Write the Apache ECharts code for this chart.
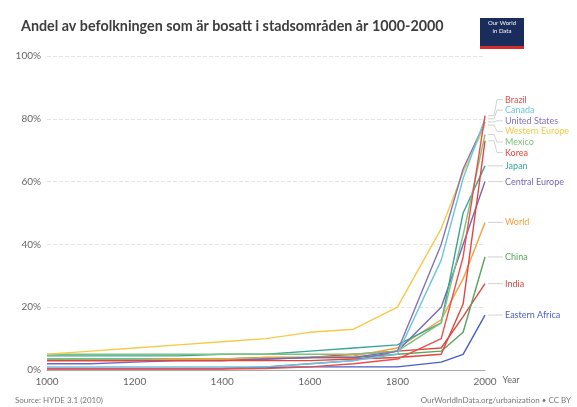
<!DOCTYPE html>
<html><head><meta charset="utf-8">
<script src="https://cdn.jsdelivr.net/npm/echarts@6/dist/echarts.min.js"></script>
<style>html,body{margin:0;padding:0;background:#fff}#c{width:577px;height:407px}</style>
</head><body><div id="c"></div>
<script>
var years = [1000, 1100, 1200, 1300, 1400, 1500, 1600, 1700, 1800, 1900, 1950, 2000];
var seriesNames = ['Brazil','Canada','United States','Western Europe','Mexico','Korea','Japan','Central Europe','World','China','India','Eastern Africa'];
var brazil        = [0.3, 0.3, 0.3, 0.3, 0.3, 0.5, 1.0, 2.0, 3.5, 10, 36, 81];
var canada        = [1.0, 1.0, 1.0, 1.0, 1.0, 1.0, 2.0, 3.0, 5.0, 35, 61, 80];
var unitedStates  = [0.5, 0.5, 0.5, 0.5, 0.5, 1.0, 2.0, 3.0, 6.0, 40, 64, 79];
var westernEurope = [5.0, 6.0, 7.0, 8.0, 9.0, 10, 12, 13, 20, 45, 63, 78];
var mexico        = [5.0, 5.0, 5.0, 5.0, 5.0, 5.0, 5.0, 5.0, 6.0, 15, 43, 75];
var korea         = [3.0, 3.0, 3.0, 3.0, 3.0, 3.0, 3.0, 3.5, 4.0, 5.0, 21, 73];
var japan         = [4.5, 4.5, 4.5, 4.5, 5.0, 5.0, 6.0, 7.0, 8.0, 15, 50, 65];
var centralEurope = [2.0, 2.0, 2.5, 3.0, 3.0, 3.5, 4.0, 4.0, 6.0, 20, 40, 60];
var world         = [3.0, 3.0, 3.0, 3.5, 3.5, 4.0, 4.0, 4.5, 7.0, 16, 29, 47];
var china         = [3.5, 3.5, 3.5, 3.5, 3.5, 4.0, 4.0, 4.0, 5.0, 6.0, 12, 36];
var india         = [3.0, 3.0, 3.0, 3.0, 3.0, 3.5, 4.0, 5.0, 6.0, 7.0, 17, 27.5];
var easternAfrica = [0.5, 0.5, 0.5, 0.5, 0.5, 0.8, 1.0, 1.0, 1.0, 2.5, 5.0, 17.5];
var seriesData = [brazil, canada, unitedStates, westernEurope, mexico, korea, japan, centralEurope, world, china, india, easternAfrica];
var colors = ['#e8504c','#6cc5dd','#8273bd','#f7c948','#7fc27a','#e2453f','#3aa59c','#7766b8','#f5a03d','#5aa35a','#d94a40','#4a5fc4'];

var chart = echarts.init(document.getElementById('c'), null, {renderer:'canvas'});
var series = seriesNames.map(function(n, i){
  return {
    name:n, type:'line', data:years.map(function(y, j){ return [y, seriesData[i][j]]; }),
    showSymbol:false, symbol:'none',
    lineStyle:{width:1.4, color:colors[i]}, itemStyle:{color:colors[i]},
    z: 10 - i*0.1
  };
});
var option = {
  animation:false,
  color:colors,
  title:{text:'Andel av befolkningen som är bosatt i stadsområden år 1000-2000', left:16, top:14,
    textStyle:{fontFamily:'Lato', fontWeight:'bold', fontSize:14.3, color:'#3d3d3d'}},
  grid:{left:47, right:92, top:56, bottom:37},
  xAxis:{type:'value', min:1000, max:2000, interval:200, name:'Year', nameLocation:'end', nameGap:12,
    nameTextStyle:{color:'#666', fontSize:9, fontFamily:'Lato', verticalAlign:'top', padding:[6,0,0,0]},
    axisLine:{lineStyle:{color:'#aaa'}}, axisTick:{show:false}, splitLine:{show:false},
    axisLabel:{color:'#666', fontSize:10, fontFamily:'Lato', margin:7, formatter:function(v){return String(v);}}},
  yAxis:{type:'value', min:0, max:100, interval:20,
    axisLine:{show:false}, axisTick:{show:false},
    splitLine:{lineStyle:{color:'#e4e4e4', type:'dashed'}},
    axisLabel:{color:'#666', fontSize:10, fontFamily:'Lato', margin:6, formatter:'{value}%'}},
  series:series
};
chart.setOption(option);

// end labels placed from the chart's own scale, then spread to avoid overlap (centered clusters)
var ends = seriesNames.map(function(n, i){
  var last = seriesData[i][seriesData[i].length-1];
  var p = chart.convertToPixel({gridIndex:0}, [years[years.length-1], last]);
  return {i:i, name:n, px:p[0], py:p[1]};
});
ends.sort(function(a,b){return a.py-b.py;});
var gap = 10.6;
var clusters = ends.map(function(e){ return {items:[e], top:e.py}; });
var merged = true;
while (merged){
  merged = false;
  for (var k=0;k<clusters.length-1;k++){
    var a = clusters[k], b = clusters[k+1];
    if (a.top + a.items.length*gap > b.top){
      var items = a.items.concat(b.items);
      var mean = items.reduce(function(s,e){return s+e.py;},0)/items.length;
      clusters.splice(k,2,{items:items, top: mean - (items.length-1)*gap/2});
      merged = true; break;
    }
  }
}
var g = [];
clusters.forEach(function(c){
  c.items.forEach(function(e, m){
    var ly = c.top + m*gap;
    var lx = e.px + 20;
    g.push({type:'polyline', shape:{points:[[e.px+3,e.py],[e.px+9,e.py],[e.px+12,ly],[lx-2,ly]]}, style:{stroke:'#c8c8c8', lineWidth:0.8, fill:null}, silent:true});
    g.push({type:'text', style:{x:lx, y:ly, text:e.name, fill:colors[e.i], fontSize:9, fontFamily:'Lato', verticalAlign:'middle'}});
  });
});
g.push({type:'rect', shape:{x:480, y:18, width:44, height:30}, style:{fill:'#1a2c5b'}});
g.push({type:'rect', shape:{x:480, y:46, width:44, height:3}, style:{fill:'#d42b2b'}});
g.push({type:'text', style:{x:502, y:27, text:'Our World\nin Data', fill:'#fff', fontSize:6, fontFamily:'Lato', align:'center', verticalAlign:'middle', lineHeight:8}});
g.push({type:'text', style:{x:15, y:400, text:'Source: HYDE 3.1 (2010)', fill:'#777', fontSize:8, fontFamily:'Lato', verticalAlign:'middle'}});
g.push({type:'text', style:{x:571, y:400, text:'OurWorldInData.org/urbanization • CC BY', fill:'#777', fontSize:8, fontFamily:'Lato', align:'right', verticalAlign:'middle'}});
chart.setOption({graphic:g});
</script></body></html>
